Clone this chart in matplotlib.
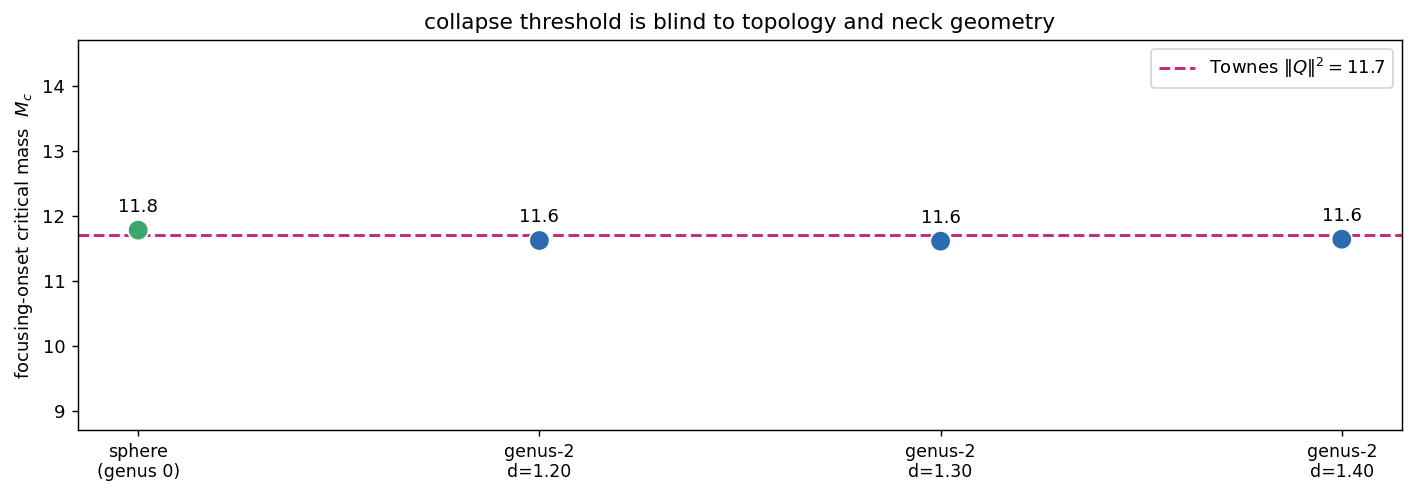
import matplotlib

matplotlib.use("Agg")
import matplotlib.pyplot as plt
import numpy as np

# data
labels = ["sphere\n(genus 0)", "genus-2\nd=1.20", "genus-2\nd=1.30", "genus-2\nd=1.40"]
critical_mass = [11.78, 11.62, 11.61, 11.64]
townes_mass = 11.7

GREEN = "#3aa76d"
BLUE = "#2b6cb0"
MAGENTA = "#c2287b"

colors = [GREEN, BLUE, BLUE, BLUE]

DPI = 130
fig = plt.figure(figsize=(1415 / DPI, 494 / DPI), dpi=DPI)
ax = fig.add_axes([78 / 1415, 64 / 494, 1324 / 1415, 390 / 494])

x = np.arange(len(labels))
ax.axhline(townes_mass, color=MAGENTA, ls="--", lw=1.6,
           label=r"Townes $\|Q\|^2 = 11.7$", zorder=1)
ax.scatter(x, critical_mass, s=130, c=colors, edgecolors="white",
           linewidths=1.0, zorder=3)

for xi, m in zip(x, critical_mass):
    ax.annotate(f"{m:.1f}", (xi, m), xytext=(0, 8), textcoords="offset points",
                ha="center", va="bottom", fontsize=10)

ax.set_xticks(x)
ax.set_xticklabels(labels, fontsize=9.6)
ax.set_xlim(-0.15, 3.15)
ax.set_ylim(8.7, 14.71)
ax.set_ylabel(r"focusing-onset critical mass  $M_c$")
ax.set_title("collapse threshold is blind to topology and neck geometry")
ax.legend(loc="upper right")

fig.savefig("out.png", dpi=DPI)
